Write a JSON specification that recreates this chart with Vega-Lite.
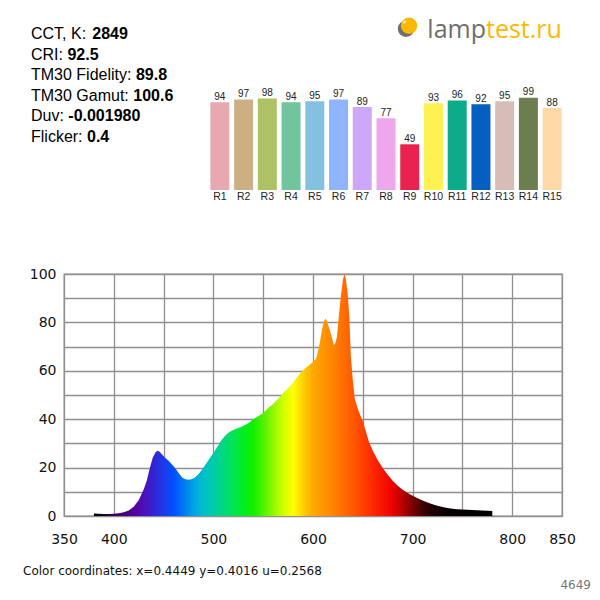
{
  "$schema": "https://vega.github.io/schema/vega-lite/v6.json",
  "padding": {"left": 22, "top": 12, "right": 0, "bottom": 0},
  "background": "white",
  "title": {"text": "4649", "orient": "bottom", "anchor": "end", "frame": "bounds", "dx": 15, "offset": 2, "fontSize": 12, "font": "DejaVu Sans", "fontWeight": "normal", "color": "#777777"},
  "bounds": "flush",
  "spacing": 262,
  "vconcat": [
    {
      "bounds": "flush",
      "spacing": 0,
      "hconcat": [
        {
          "width": 143.5,
          "height": 178,
          "data": {"values": [
            {"label": "CCT, K:", "value": "2849"},
            {"label": "CRI:", "value": "92.5"},
            {"label": "TM30 Fidelity:", "value": "89.8"},
            {"label": "TM30 Gamut:", "value": "100.6"},
            {"label": "Duv:", "value": "-0.001980"},
            {"label": "Flicker:", "value": "0.4"}
          ]},
          "encoding": {
            "y": {"field": "label", "type": "nominal", "sort": null, "axis": null, "scale": {"type": "point", "padding": 0, "range": [27, 129.5]}},
            "x": {"datum": 0, "type": "quantitative", "axis": null, "scale": {"domain": [0, 1], "range": [-33, 110.5]}}
          },
          "layer": [
            {"mark": {"type": "text", "align": "left", "baseline": "alphabetic", "fontSize": 16, "color": "#000000"},
             "encoding": {"text": {"field": "label"}}},
            {"mark": {"type": "text", "align": "left", "baseline": "alphabetic", "fontSize": 16, "fontWeight": "bold", "color": "#000000",
                      "dx": {"expr": "datum.label === 'CCT, K:' ? 61.3 : datum.label === 'CRI:' ? 36.4 : datum.label === 'TM30 Fidelity:' ? 104.9 : datum.label === 'TM30 Gamut:' ? 102.3 : datum.label === 'Duv:' ? 37.3 : 56"}},
             "encoding": {"text": {"field": "value"}}}
          ]
        },
        {
          "bounds": "flush",
          "spacing": 44.7,
          "vconcat": [
            {
              "width": 356,
              "height": 40,
              "data": {"values": [{"part": "lamp"}, {"part": "test.ru"}]},
              "layer": [
                {"transform": [{"filter": "datum.part === 'lamp'"}],
                 "mark": {"type": "point", "shape": "circle", "filled": true, "size": 270, "color": "#6e6e6e", "opacity": 1},
                 "encoding": {
                   "x": {"datum": 198, "type": "quantitative", "axis": null, "scale": {"domain": [0, 356], "nice": false, "zero": false}},
                   "y": {"datum": 16.8, "type": "quantitative", "axis": null, "scale": {"domain": [40, 0], "nice": false, "zero": false}}
                 }},
                {"transform": [{"filter": "datum.part === 'lamp'"}],
                 "mark": {"type": "point", "shape": "circle", "filled": true, "size": 270, "color": "#fbb800", "opacity": 1},
                 "encoding": {
                   "x": {"datum": 201, "type": "quantitative"},
                   "y": {"datum": 13.8, "type": "quantitative"}
                 }},
                {"transform": [{"filter": "datum.part === 'lamp'"}],
                 "mark": {"type": "point", "shape": "circle", "filled": true, "size": 10, "color": "#fff6d8", "opacity": 0.9},
                 "encoding": {
                   "x": {"datum": 196.5, "type": "quantitative"},
                   "y": {"datum": 10, "type": "quantitative"}
                 }},
                {"transform": [{"filter": "datum.part === 'lamp'"}],
                 "mark": {"type": "text", "align": "right", "baseline": "alphabetic", "font": "Open Sans", "fontSize": 25, "color": "#6e6e6e"},
                 "encoding": {
                   "x": {"datum": 278, "type": "quantitative"},
                   "y": {"datum": 26.3, "type": "quantitative"},
                   "text": {"field": "part"}
                 }},
                {"transform": [{"filter": "datum.part === 'test.ru'"}],
                 "mark": {"type": "text", "align": "left", "baseline": "alphabetic", "font": "Open Sans", "fontSize": 25, "color": "#fcb900"},
                 "encoding": {
                   "x": {"datum": 278, "type": "quantitative"},
                   "y": {"datum": 26.3, "type": "quantitative"},
                   "text": {"field": "part"}
                 }}
              ]
            },
            {
              "width": 356,
              "height": 93.3,
              "data": {"values": [
                {"name": "R1", "value": 94}, {"name": "R2", "value": 97}, {"name": "R3", "value": 98},
                {"name": "R4", "value": 94}, {"name": "R5", "value": 95}, {"name": "R6", "value": 97},
                {"name": "R7", "value": 89}, {"name": "R8", "value": 77}, {"name": "R9", "value": 49},
                {"name": "R10", "value": 93}, {"name": "R11", "value": 96}, {"name": "R12", "value": 92},
                {"name": "R13", "value": 95}, {"name": "R14", "value": 99}, {"name": "R15", "value": 88}
              ]},
              "encoding": {
                "x": {"field": "name", "type": "nominal", "sort": null,
                      "scale": {"paddingInner": 0.2, "paddingOuter": 0.1},
                      "axis": {"title": null, "labelAngle": 0, "ticks": false, "domain": false, "labelPadding": 1,
                               "labelFontSize": 10.5, "labelColor": "#222222", "labelFont": "Liberation Sans"}},
                "y": {"field": "value", "type": "quantitative", "scale": {"domain": [0, 100], "nice": false}, "axis": null}
              },
              "layer": [
                {"mark": {"type": "bar"},
                 "encoding": {"color": {"field": "name", "type": "nominal", "sort": null, "legend": null,
                   "scale": {"domain": ["R1","R2","R3","R4","R5","R6","R7","R8","R9","R10","R11","R12","R13","R14","R15"],
                             "range": ["#e8a8b0","#ccb084","#adc263","#72c49e","#82c2e0","#90b4fc","#cea6fa","#eea6ec","#ea234e","#fef253","#0cab8a","#055fc0","#d7bdb7","#6c7d4f","#fed9a8"]}}}},
                {"mark": {"type": "text", "baseline": "alphabetic", "dy": -2.3, "fontSize": 10, "color": "#222222"},
                 "encoding": {"text": {"field": "value"}}}
              ]
            }
          ]
        }
      ]
    },
    {
      "width": 498,
      "height": 242,
      "view": {"stroke": "#8f8f8f", "strokeWidth": 1.3},
      "title": {"text": "Color coordinates: x=0.4449 y=0.4016 u=0.2568", "orient": "bottom", "anchor": "start", "frame": "group", "dx": -41, "offset": 20, "fontSize": 12, "font": "DejaVu Sans", "fontWeight": "normal", "color": "#111111"},
      "data": {"values": [
        {"wl": 380, "p": 1.0}, {"wl": 385, "p": 0.9}, {"wl": 390, "p": 0.8}, {"wl": 395, "p": 0.8},
        {"wl": 400, "p": 0.9}, {"wl": 405, "p": 1.1}, {"wl": 410, "p": 1.5}, {"wl": 415, "p": 2.3},
        {"wl": 420, "p": 3.8}, {"wl": 425, "p": 6.5}, {"wl": 430, "p": 11}, {"wl": 433, "p": 14.5},
        {"wl": 436, "p": 19.5}, {"wl": 439, "p": 24}, {"wl": 442, "p": 26.3}, {"wl": 444, "p": 27},
        {"wl": 446, "p": 26.6}, {"wl": 448, "p": 25.6}, {"wl": 451, "p": 24.3}, {"wl": 455, "p": 22.8},
        {"wl": 460, "p": 20.6}, {"wl": 463, "p": 19}, {"wl": 466, "p": 17.3}, {"wl": 469, "p": 15.8},
        {"wl": 472, "p": 15.2}, {"wl": 475, "p": 15}, {"wl": 478, "p": 15.2}, {"wl": 481, "p": 15.8},
        {"wl": 484, "p": 16.8}, {"wl": 487, "p": 18.3}, {"wl": 490, "p": 20}, {"wl": 494, "p": 22.4},
        {"wl": 497, "p": 24.3}, {"wl": 500, "p": 26}, {"wl": 504, "p": 28.6}, {"wl": 508, "p": 31.3},
        {"wl": 512, "p": 33.3}, {"wl": 516, "p": 34.7}, {"wl": 520, "p": 35.5}, {"wl": 525, "p": 36.4},
        {"wl": 530, "p": 37.2}, {"wl": 535, "p": 38.3}, {"wl": 540, "p": 40}, {"wl": 545, "p": 41.2},
        {"wl": 550, "p": 42.6}, {"wl": 555, "p": 44.6}, {"wl": 560, "p": 46.3}, {"wl": 565, "p": 48.5},
        {"wl": 570, "p": 50.8}, {"wl": 575, "p": 52.8}, {"wl": 580, "p": 55.2}, {"wl": 585, "p": 57.8},
        {"wl": 590, "p": 60.2}, {"wl": 595, "p": 62}, {"wl": 600, "p": 63.6}, {"wl": 603, "p": 65},
        {"wl": 605, "p": 68}, {"wl": 607, "p": 72}, {"wl": 609, "p": 77}, {"wl": 611, "p": 80.5},
        {"wl": 612.5, "p": 81.5}, {"wl": 614, "p": 80.5}, {"wl": 616, "p": 78}, {"wl": 618.5, "p": 74.5},
        {"wl": 621, "p": 70.6}, {"wl": 622.5, "p": 71.5}, {"wl": 624, "p": 74}, {"wl": 626, "p": 83},
        {"wl": 628, "p": 91}, {"wl": 630, "p": 97.5}, {"wl": 631.5, "p": 100}, {"wl": 633, "p": 98},
        {"wl": 635, "p": 91}, {"wl": 636.5, "p": 82}, {"wl": 638, "p": 66}, {"wl": 640, "p": 56},
        {"wl": 642, "p": 48.3}, {"wl": 645, "p": 44.3}, {"wl": 648, "p": 41}, {"wl": 650, "p": 39.3},
        {"wl": 653, "p": 35}, {"wl": 656, "p": 30.8}, {"wl": 660, "p": 27}, {"wl": 665, "p": 23},
        {"wl": 670, "p": 19.8}, {"wl": 675, "p": 17}, {"wl": 680, "p": 14.6}, {"wl": 685, "p": 12.5},
        {"wl": 690, "p": 10.8}, {"wl": 695, "p": 9.5}, {"wl": 700, "p": 8.4}, {"wl": 705, "p": 7.3},
        {"wl": 710, "p": 6.4}, {"wl": 715, "p": 5.6}, {"wl": 720, "p": 4.9}, {"wl": 725, "p": 4.2},
        {"wl": 730, "p": 3.7}, {"wl": 735, "p": 3.3}, {"wl": 740, "p": 3}, {"wl": 745, "p": 2.8},
        {"wl": 750, "p": 2.7}, {"wl": 760, "p": 2.5}, {"wl": 770, "p": 2.3}, {"wl": 780, "p": 2.1}
      ]},
      "mark": {"type": "area", "line": false,
        "color": {"gradient": "linear", "x1": 0, "x2": 1, "y1": 0, "y2": 0, "stops": [
          {"offset": 0, "color": "#000000"},
          {"offset": 0.025, "color": "#1c0030"},
          {"offset": 0.05, "color": "#380058"},
          {"offset": 0.075, "color": "#4a007a"},
          {"offset": 0.1, "color": "#56009a"},
          {"offset": 0.125, "color": "#4c10b8"},
          {"offset": 0.15, "color": "#3424d4"},
          {"offset": 0.175, "color": "#1e3ae8"},
          {"offset": 0.2, "color": "#0050ff"},
          {"offset": 0.225, "color": "#0078f4"},
          {"offset": 0.25, "color": "#00a4e4"},
          {"offset": 0.275, "color": "#00c0cc"},
          {"offset": 0.3, "color": "#00cca8"},
          {"offset": 0.325, "color": "#00d880"},
          {"offset": 0.35, "color": "#00e454"},
          {"offset": 0.375, "color": "#00ee20"},
          {"offset": 0.4, "color": "#10f000"},
          {"offset": 0.425, "color": "#50f200"},
          {"offset": 0.45, "color": "#90f800"},
          {"offset": 0.475, "color": "#d0ff00"},
          {"offset": 0.5, "color": "#ffff00"},
          {"offset": 0.525, "color": "#ffd000"},
          {"offset": 0.55, "color": "#ffa800"},
          {"offset": 0.6, "color": "#ff8400"},
          {"offset": 0.65, "color": "#ff5a00"},
          {"offset": 0.7, "color": "#ff2800"},
          {"offset": 0.75, "color": "#ee0000"},
          {"offset": 0.775, "color": "#b80000"},
          {"offset": 0.8, "color": "#780000"},
          {"offset": 0.825, "color": "#420000"},
          {"offset": 0.85, "color": "#200000"},
          {"offset": 0.8875, "color": "#080000"},
          {"offset": 0.925, "color": "#000000"},
          {"offset": 1, "color": "#000000"}
        ]}},
      "encoding": {
        "x": {"field": "wl", "type": "quantitative",
              "scale": {"domain": [350, 850], "nice": false, "zero": false},
              "axis": {"title": null, "values": [350, 400, 450, 500, 550, 600, 650, 700, 750, 800, 850],
                       "labelExpr": "indexof([450, 550, 650, 750], datum.value) >= 0 ? '' : datum.label",
                       "grid": true, "gridColor": "#8f8f8f", "gridWidth": 1.3, "gridOpacity": 1,
                       "ticks": false, "tickSize": 0, "domain": false, "labelPadding": 16, "labelFlush": false, "labelOverlap": false,
                       "labelFont": "DejaVu Sans", "labelFontSize": 14, "labelColor": "#111111"}},
        "y": {"field": "p", "type": "quantitative",
              "scale": {"domain": [0, 100], "nice": false},
              "axis": {"title": null, "values": [0, 10, 20, 30, 40, 50, 60, 70, 80, 90, 100],
                       "labelExpr": "datum.value % 20 === 0 ? datum.label : ''",
                       "grid": true, "gridColor": "#8f8f8f", "gridWidth": 1.3, "gridOpacity": 1,
                       "ticks": false, "tickSize": 0, "domain": false, "labelPadding": 8, "labelFlush": false, "labelOverlap": false,
                       "labelFont": "DejaVu Sans", "labelFontSize": 14, "labelColor": "#111111"}}
      }
    }
  ],
  "config": {
    "view": {"stroke": null},
    "font": "Liberation Sans"
  }
}
